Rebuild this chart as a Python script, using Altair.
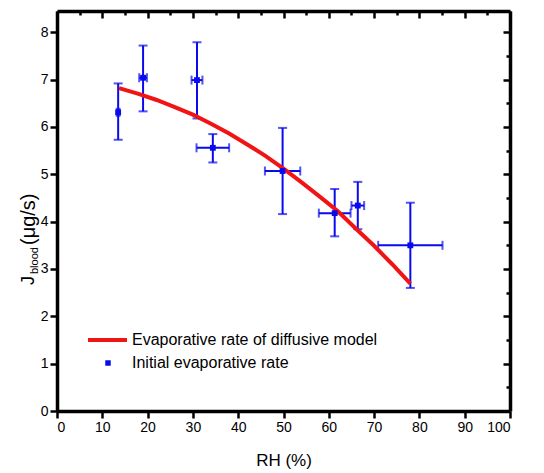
import altair as alt
import pandas as pd

# ---- data ----
rh = [13.5, 19.0, 30.9, 34.4, 49.8, 61.3, 66.4, 78.0]
j_blood = [6.31, 7.04, 6.99, 5.56, 5.07, 4.18, 4.34, 3.50]
rh_err = [0.3, 0.85, 1.2, 3.6, 3.9, 3.5, 1.4, 7.1]
j_low = [5.73, 6.33, 6.18, 5.25, 4.16, 3.69, 3.84, 2.60]
j_high = [6.92, 7.72, 7.79, 5.85, 5.98, 4.69, 4.84, 4.40]

model_rh = [13.7, 18, 22, 26, 30, 34, 38, 42, 46, 50, 54, 58, 62, 66, 70, 74, 78]
model_j = [6.82, 6.70, 6.57, 6.42, 6.26, 6.07, 5.86, 5.63, 5.39, 5.12, 4.83, 4.53,
           4.22, 3.85, 3.49, 3.10, 2.69]

x_ticks = list(range(0, 101, 5))
y_ticks = [i / 2 for i in range(0, 17)]
legend_labels = ["Evaporative rate of diffusive model", "Initial evaporative rate"]
x_title = "RH (%)"
y_title_parts = ["J", "blood", "(\u03bcg/s)"]

BLUE = "#0a0aee"
RED = "#f01414"
FONT = "Liberation Sans"

pts = pd.DataFrame({"rh": rh, "j": j_blood, "err": rh_err, "lo": j_low, "hi": j_high})
pts["xlo"] = pts["rh"] - pts["err"]
pts["xhi"] = pts["rh"] + pts["err"]
model = pd.DataFrame({"rh": model_rh, "j": model_j})

xs = alt.Scale(domain=[0, 100], nice=False, zero=False)
ys = alt.Scale(domain=[0, 8.45], nice=False, zero=False)

common_axis = dict(domainColor="black", domainWidth=3.5, tickColor="black", tickWidth=2.5,
                   grid=False, labelFont=FONT, labelFontSize=14, labelColor="black",
                   titleFont=FONT, titleFontSize=17, titleFontWeight="normal",
                   titleColor="black")

x_axis = alt.Axis(values=x_ticks, orient="bottom",
                  labelExpr="datum.value % 10 === 0 ? datum.label : ''",
                  tickSize={"condition": {"test": "datum.value % 10 === 0", "value": 7}, "value": 4},
                  labelPadding=2, title=x_title, titlePadding=18, **common_axis)
y_axis = alt.Axis(values=y_ticks, orient="left",
                  labelExpr="datum.value % 1 === 0 ? datum.label : ''",
                  tickSize={"condition": {"test": "datum.value % 1 === 0", "value": 7}, "value": 4},
                  labelPadding=2, title=None, **common_axis)
top_axis = alt.Axis(values=x_ticks, orient="top", labels=False, title=None,
                    tickSize={"condition": {"test": "datum.value % 10 === 0", "value": -7}, "value": -4},
                    **common_axis)
right_axis = alt.Axis(values=y_ticks, orient="right", labels=False, title=None,
                      tickSize={"condition": {"test": "datum.value % 1 === 0", "value": -7}, "value": -4},
                      **common_axis)

base = alt.Chart(pts)

v_err = base.mark_rule(color=BLUE, strokeWidth=2).encode(
    x=alt.X("rh:Q", scale=xs, axis=x_axis),
    y=alt.Y("lo:Q", scale=ys, axis=y_axis),
    y2="hi:Q",
)
v_cap_lo = base.mark_tick(color=BLUE, orient="horizontal", size=9, thickness=2).encode(
    x=alt.X("rh:Q", scale=xs), y=alt.Y("lo:Q", scale=ys))
v_cap_hi = base.mark_tick(color=BLUE, orient="horizontal", size=9, thickness=2).encode(
    x=alt.X("rh:Q", scale=xs), y=alt.Y("hi:Q", scale=ys))
h_err = base.mark_rule(color=BLUE, strokeWidth=2).encode(
    x=alt.X("xlo:Q", scale=xs), x2="xhi:Q", y=alt.Y("j:Q", scale=ys))
h_cap_lo = base.mark_tick(color=BLUE, orient="vertical", size=9, thickness=2).encode(
    x=alt.X("xlo:Q", scale=xs), y=alt.Y("j:Q", scale=ys))
h_cap_hi = base.mark_tick(color=BLUE, orient="vertical", size=9, thickness=2).encode(
    x=alt.X("xhi:Q", scale=xs), y=alt.Y("j:Q", scale=ys))
points = base.mark_square(color=BLUE, size=34, opacity=1).encode(
    x=alt.X("rh:Q", scale=xs), y=alt.Y("j:Q", scale=ys))

curve = alt.Chart(model).mark_line(color=RED, strokeWidth=4).encode(
    x=alt.X("rh:Q", scale=xs), y=alt.Y("j:Q", scale=ys))

one = alt.Chart(pd.DataFrame({"d": [0]}))

# y-axis title with subscript
ytitle_J = one.mark_text(text=y_title_parts[0], angle=270, align="left", baseline="middle",
                         font=FONT, fontSize=18, color="black").encode(
    x=alt.value(-28), y=alt.value(274))
ytitle_sub = one.mark_text(text=y_title_parts[1], angle=270, align="left", baseline="middle",
                           font=FONT, fontSize=11, color="black").encode(
    x=alt.value(-22), y=alt.value(263))
ytitle_unit = one.mark_text(text=y_title_parts[2], angle=270, align="left", baseline="middle",
                            font=FONT, fontSize=20, color="black").encode(
    x=alt.value(-28), y=alt.value(234))

# legend
leg_line = one.mark_rule(color=RED, strokeWidth=4).encode(
    x=alt.value(31), x2=alt.value(70), y=alt.value(329))
leg_sq = one.mark_square(color=BLUE, size=30, opacity=1).encode(
    x=alt.value(51), y=alt.value(352))
leg_t1 = one.mark_text(text=legend_labels[0], align="left", baseline="middle",
                       font=FONT, fontSize=16, color="black").encode(
    x=alt.value(75), y=alt.value(329))
leg_t2 = one.mark_text(text=legend_labels[1], align="left", baseline="middle",
                       font=FONT, fontSize=16, color="black").encode(
    x=alt.value(75), y=alt.value(352))

main = alt.layer(v_err, v_cap_lo, v_cap_hi, h_err, h_cap_lo, h_cap_hi, curve, points,
                 ytitle_J, ytitle_sub, ytitle_unit, leg_line, leg_sq, leg_t1, leg_t2)

mirror = alt.Chart(model).mark_point(opacity=0).encode(
    x=alt.X("rh:Q", scale=xs, axis=top_axis),
    y=alt.Y("j:Q", scale=ys, axis=right_axis),
)

chart = alt.layer(main, mirror).resolve_scale(x="independent", y="independent").properties(
    width=453, height=400,
    autosize=alt.AutoSizeParams(type="none"),
    padding={"left": 49, "top": 3, "right": 26, "bottom": 58},
).configure_view(stroke=None).configure_axis(
    domainWidth=3.5, domainColor="black", tickWidth=2.5, tickColor="black",
    labelFontSize=14, labelFont=FONT, labelColor="black",
)

chart.save("out.html", embed_options={"renderer": "svg", "actions": False})
